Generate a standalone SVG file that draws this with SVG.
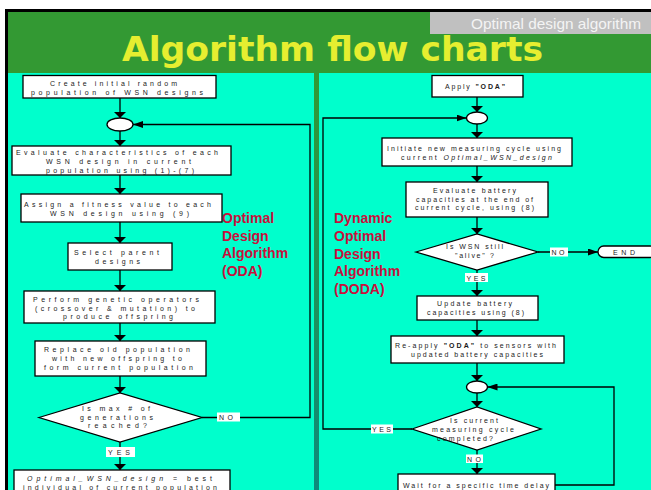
<svg xmlns="http://www.w3.org/2000/svg" width="651" height="490" viewBox="0 0 651 490">
  <defs>
    <style>
      .bx { fill: #ffffff; stroke: #000000; stroke-width: 1.3; }
      .t { font-family: "Liberation Sans", Arial, sans-serif; font-size: 7px; fill: #1a1a1a; }
      .cn { fill: none; stroke: #000000; stroke-width: 1.3; }
      .lb { fill: #ffffff; }
      .red { font-family: "Liberation Sans", Arial, sans-serif; font-weight: bold; font-size: 14px; fill: #c80f3c; }
      .it { font-style: italic; }
      .b { font-weight: bold; }
    </style>
    <linearGradient id="divider" x1="0" y1="0" x2="0" y2="1">
      <stop offset="0" stop-color="#339933"/>
      <stop offset="1" stop-color="#0d8a7c"/>
    </linearGradient>
    <!-- vertical arrowhead: short and wide -->
    <marker id="arrV" viewBox="0 0 6 12" refX="6" refY="6" markerWidth="6" markerHeight="12" markerUnits="userSpaceOnUse" orient="auto">
      <path d="M0,0 L6,6 L0,12 Z" fill="#000"/>
    </marker>
    <!-- horizontal arrowhead: longer and narrower -->
    <marker id="arrH" viewBox="0 0 10 7" refX="10" refY="3.5" markerWidth="10" markerHeight="7" markerUnits="userSpaceOnUse" orient="auto">
      <path d="M0,0 L10,3.5 L0,7 Z" fill="#000"/>
    </marker>
  </defs>

  <!-- slide frame -->
  <rect x="0" y="0" width="651" height="490" fill="#ffffff"/>
  <rect x="5" y="9" width="646" height="481" fill="#000000"/>
  <rect x="8" y="12" width="643" height="478" fill="#339933"/>
  <rect x="8" y="73" width="306" height="417" fill="#00ffcc"/>
  <rect x="319" y="73" width="332" height="417" fill="#00ffcc"/>
  <rect x="314" y="73" width="5" height="417" fill="url(#divider)"/>

  <!-- header -->
  <g id="header">
    <rect x="430" y="12" width="221" height="22" fill="#c0c0c0"/>
    <text x="471" y="29" font-family="'Liberation Sans', Arial, sans-serif" font-size="15" fill="#f4f4f4" textLength="170" lengthAdjust="spacingAndGlyphs">Optimal design algorithm</text>
    <text x="122" y="61" font-family="'DejaVu Sans', sans-serif" font-weight="bold" font-size="34" fill="#e6ee30" textLength="421" lengthAdjust="spacingAndGlyphs">Algorithm flow charts</text>
  </g>

  <!-- connectors -->
  <g id="connectors">
    <!-- ODA trunk -->
    <line class="cn" x1="120" y1="98" x2="120" y2="118" marker-end="url(#arrV)"/>
    <line class="cn" x1="120" y1="131" x2="120" y2="146" marker-end="url(#arrV)"/>
    <line class="cn" x1="120" y1="175" x2="120" y2="194" marker-end="url(#arrV)"/>
    <line class="cn" x1="120" y1="222" x2="120" y2="243" marker-end="url(#arrV)"/>
    <line class="cn" x1="120" y1="270" x2="120" y2="291" marker-end="url(#arrV)"/>
    <line class="cn" x1="120" y1="323" x2="120" y2="341" marker-end="url(#arrV)"/>
    <line class="cn" x1="120" y1="376" x2="120" y2="393" marker-end="url(#arrV)"/>
    <line class="cn" x1="120" y1="442" x2="120" y2="470" marker-end="url(#arrV)"/>
    <polyline class="cn" points="202,417.5 310,417.5 310,124.5 133,124.5" marker-end="url(#arrH)"/>

    <!-- DODA trunk -->
    <line class="cn" x1="477" y1="97" x2="477" y2="112" marker-end="url(#arrV)"/>
    <line class="cn" x1="477" y1="124" x2="477" y2="138" marker-end="url(#arrV)"/>
    <line class="cn" x1="477" y1="166" x2="477" y2="182" marker-end="url(#arrV)"/>
    <line class="cn" x1="477" y1="217" x2="477" y2="234" marker-end="url(#arrV)"/>
    <line class="cn" x1="477" y1="270" x2="477" y2="296" marker-end="url(#arrV)"/>
    <line class="cn" x1="477" y1="320" x2="477" y2="336" marker-end="url(#arrV)"/>
    <line class="cn" x1="477" y1="363" x2="477" y2="381" marker-end="url(#arrV)"/>
    <line class="cn" x1="477" y1="393" x2="477" y2="407" marker-end="url(#arrV)"/>
    <line class="cn" x1="477" y1="450" x2="477" y2="474" marker-end="url(#arrV)"/>
    <line class="cn" x1="538" y1="252" x2="598" y2="252" marker-end="url(#arrH)"/>
    <polyline class="cn" points="412,429 323,429 323,118 466.5,118" marker-end="url(#arrH)"/>
    <polyline class="cn" points="555,485 614,485 614,387 487.5,387" marker-end="url(#arrH)"/>

    <!-- branch labels -->
    <rect class="lb" x="217" y="412.5" width="23" height="9"/>
    <text class="t" x="219" y="420" textLength="14" lengthAdjust="spacing">NO</text>
    <rect class="lb" x="106" y="447" width="29" height="10"/>
    <text class="t" x="108" y="455" textLength="22" lengthAdjust="spacing">YES</text>
    <rect class="lb" x="550" y="247.5" width="18" height="9"/>
    <text class="t" x="551.5" y="255" textLength="13" lengthAdjust="spacing">NO</text>
    <rect class="lb" x="465" y="273" width="23" height="9"/>
    <text class="t" x="466.5" y="281" textLength="19" lengthAdjust="spacing">YES</text>
    <rect class="lb" x="371" y="424.5" width="22" height="9"/>
    <text class="t" x="372" y="432" textLength="19" lengthAdjust="spacing">YES</text>
    <rect class="lb" x="466" y="454.5" width="17" height="8.5"/>
    <text class="t" x="467" y="461.5" textLength="14" lengthAdjust="spacing">NO</text>
  </g>

  <!-- ODA nodes -->
  <g id="oda-create">
    <rect class="bx" x="23" y="75.5" width="193" height="22.5"/>
    <text class="t" x="50" y="86" textLength="127" lengthAdjust="spacing">Create initial random</text>
    <text class="t" x="31" y="95" textLength="172" lengthAdjust="spacing">population of WSN designs</text>
  </g>
  <g id="oda-merge">
    <ellipse cx="120" cy="124.5" rx="13" ry="6.5" fill="#fff" stroke="#000" stroke-width="1.3"/>
  </g>
  <g id="oda-evaluate">
    <rect class="bx" x="12" y="146" width="219" height="29"/>
    <text class="t" x="16" y="154.5" textLength="202" lengthAdjust="spacing">Evaluate characteristics of each</text>
    <text class="t" x="46" y="163.5" textLength="145" lengthAdjust="spacing">WSN design in current</text>
    <text class="t" x="46" y="172.5" textLength="148" lengthAdjust="spacing">population using (1)-(7)</text>
  </g>
  <g id="oda-fitness">
    <rect class="bx" x="21" y="194" width="201" height="28"/>
    <text class="t" x="24" y="206.5" textLength="187" lengthAdjust="spacing">Assign a fitness value to each</text>
    <text class="t" x="50" y="215.5" textLength="139" lengthAdjust="spacing">WSN design using (9)</text>
  </g>
  <g id="oda-select">
    <rect class="bx" x="68" y="243" width="104" height="27"/>
    <text class="t" x="74" y="254.5" textLength="85" lengthAdjust="spacing">Select parent</text>
    <text class="t" x="95" y="263.5" textLength="45" lengthAdjust="spacing">designs</text>
  </g>
  <g id="oda-genetic">
    <rect class="bx" x="24" y="291" width="191" height="32"/>
    <text class="t" x="33" y="302" textLength="166" lengthAdjust="spacing">Perform genetic operators</text>
    <text class="t" x="35" y="310.5" textLength="160" lengthAdjust="spacing">(crossover &amp; mutation) to</text>
    <text class="t" x="63" y="319" textLength="110" lengthAdjust="spacing">produce offspring</text>
  </g>
  <g id="oda-replace">
    <rect class="bx" x="35" y="341" width="171" height="35"/>
    <text class="t" x="44" y="352" textLength="146" lengthAdjust="spacing">Replace old population</text>
    <text class="t" x="52" y="361" textLength="130" lengthAdjust="spacing">with new offspring to</text>
    <text class="t" x="44" y="369.5" textLength="149" lengthAdjust="spacing">form current population</text>
  </g>
  <g id="oda-check">
    <polygon class="bx" points="39,417.5 120,393 202,417.5 120,442"/>
    <text class="t" x="82" y="411" textLength="68" lengthAdjust="spacing">Is max # of</text>
    <text class="t" x="80" y="419.5" textLength="73" lengthAdjust="spacing">generations</text>
    <text class="t" x="88" y="428" textLength="59" lengthAdjust="spacing">reached?</text>
  </g>
  <g id="oda-result">
    <rect class="bx" x="14" y="470" width="216" height="30"/>
    <text class="t" x="27" y="481" textLength="185" lengthAdjust="spacing"><tspan class="it">Optimal_WSN_design</tspan> = best</text>
    <text class="t" x="23" y="489.5" textLength="194" lengthAdjust="spacing">individual of current population</text>
  </g>
  <g id="oda-title">
    <text class="red" x="222" y="223">Optimal</text>
    <text class="red" x="222" y="240.5">Design</text>
    <text class="red" x="222" y="258">Algorithm</text>
    <text class="red" x="222" y="275.5">(ODA)</text>
  </g>

  <!-- DODA nodes -->
  <g id="doda-apply">
    <rect class="bx" x="432" y="75.5" width="91" height="21.5"/>
    <text class="t" x="445" y="88.5" textLength="60" lengthAdjust="spacing">Apply <tspan class="b">"ODA"</tspan></text>
  </g>
  <g id="doda-merge1">
    <ellipse cx="477" cy="118" rx="10.5" ry="6" fill="#fff" stroke="#000" stroke-width="1.3"/>
  </g>
  <g id="doda-initiate">
    <rect class="bx" x="382" y="138" width="190" height="28"/>
    <text class="t" x="387" y="151" textLength="174" lengthAdjust="spacing">Initiate new measuring cycle using</text>
    <text class="t" x="401" y="159.5" textLength="151" lengthAdjust="spacing">current <tspan class="it">Optimal_WSN_design</tspan></text>
  </g>
  <g id="doda-evaluate">
    <rect class="bx" x="406" y="182" width="142" height="35"/>
    <text class="t" x="433" y="192.5" textLength="83" lengthAdjust="spacing">Evaluate battery</text>
    <text class="t" x="416" y="201.5" textLength="117" lengthAdjust="spacing">capacities at the end of</text>
    <text class="t" x="415" y="210" textLength="119" lengthAdjust="spacing">current cycle, using (8)</text>
  </g>
  <g id="doda-alive">
    <polygon class="bx" points="416,252 477,234 538,252 477,270"/>
    <text class="t" x="446" y="249" textLength="57" lengthAdjust="spacing">Is WSN still</text>
    <text class="t" x="455" y="258" textLength="39" lengthAdjust="spacing">"alive" ?</text>
  </g>
  <g id="doda-end">
    <rect class="bx" x="598" y="246" width="58" height="11.5" rx="5.75"/>
    <text class="t" x="613" y="255" textLength="22" lengthAdjust="spacing">END</text>
  </g>
  <g id="doda-update">
    <rect class="bx" x="417" y="296" width="121" height="24"/>
    <text class="t" x="437" y="306" textLength="75" lengthAdjust="spacing">Update battery</text>
    <text class="t" x="427" y="314.5" textLength="97" lengthAdjust="spacing">capacities using (8)</text>
  </g>
  <g id="doda-reapply">
    <rect class="bx" x="391" y="336" width="173" height="27"/>
    <text class="t" x="395" y="347.5" textLength="161" lengthAdjust="spacing">Re-apply <tspan class="b">"ODA"</tspan> to sensors with</text>
    <text class="t" x="411" y="356.5" textLength="132" lengthAdjust="spacing">updated battery capacities</text>
  </g>
  <g id="doda-merge2">
    <ellipse cx="477" cy="387" rx="10.5" ry="6" fill="#fff" stroke="#000" stroke-width="1.3"/>
  </g>
  <g id="doda-cycle">
    <polygon class="bx" points="412,429 477,407 541,429 477,450"/>
    <text class="t" x="450" y="422.5" textLength="48" lengthAdjust="spacing">Is current</text>
    <text class="t" x="432" y="431.5" textLength="82" lengthAdjust="spacing">measuring cycle</text>
    <text class="t" x="437" y="440.5" textLength="56" lengthAdjust="spacing">completed?</text>
  </g>
  <g id="doda-wait">
    <rect class="bx" x="398" y="474" width="157" height="30"/>
    <text class="t" x="403" y="487.5" textLength="146" lengthAdjust="spacing">Wait for a specific time delay</text>
  </g>
  <g id="doda-title">
    <text class="red" x="334" y="223">Dynamic</text>
    <text class="red" x="334" y="241">Optimal</text>
    <text class="red" x="334" y="258.5">Design</text>
    <text class="red" x="334" y="276">Algorithm</text>
    <text class="red" x="334" y="293.5">(DODA)</text>
  </g>
</svg>
